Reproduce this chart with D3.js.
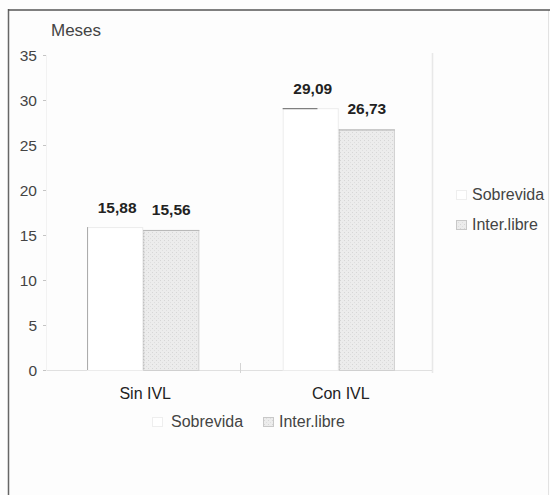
<!DOCTYPE html>
<html><head><meta charset="utf-8">
<script src="https://cdn.jsdelivr.net/npm/d3@7"></script>
<style>
html,body{margin:0;padding:0;background:#fff;}
svg{display:block;font-family:"Liberation Sans",Arial,sans-serif;}
</style></head>
<body>
<svg id="c" width="550" height="495"></svg>
<script>
const categories = ["Sin IVL", "Con IVL"];
const seriesNames = ["Sobrevida", "Inter.libre"];
const sobrevida = [15.88, 29.09];
const interLibre = [15.56, 26.73];
const yTicks = [0, 5, 10, 15, 20, 25, 30, 35];
const valueLabels = [["15,88", "29,09"], ["15,56", "26,73"]];
const yTitle = "Meses";

(function(){
const svg = d3.select("#c");
const defs = svg.append("defs");
const pat = defs.append("pattern").attr("id","stip").attr("width",4).attr("height",4).attr("patternUnits","userSpaceOnUse");
pat.append("rect").attr("width",4).attr("height",4).attr("fill","#ececec");
pat.append("rect").attr("x",0).attr("y",0).attr("width",1).attr("height",1).attr("fill","#d6d6d6");
pat.append("rect").attr("x",2).attr("y",2).attr("width",1).attr("height",1).attr("fill","#dedede");

// background + frame
svg.append("rect").attr("x",0).attr("y",0).attr("width",550).attr("height",495).attr("fill","#fdfdfd");
svg.append("line").attr("x1",548.5).attr("x2",548.5).attr("y1",10).attr("y2",495).attr("stroke","#e2e2e2");
svg.append("line").attr("x1",8.5).attr("x2",8.5).attr("y1",9).attr("y2",495).attr("stroke","#666").attr("stroke-width",1.5);
svg.append("line").attr("x1",8).attr("x2",550).attr("y1",10).attr("y2",10).attr("stroke","#555").attr("stroke-width",1.5);

const pLeft = 45, pRight = 432, pTop = 55, pBottom = 370;
const y = d3.scaleLinear().domain([0, 35]).range([pBottom, pTop]);
const x0 = d3.scaleBand().domain(categories).range([46, 436]).paddingInner(0.426).paddingOuter(0.21);
const x1 = d3.scaleBand().domain(seriesNames).range([0, x0.bandwidth()]);

// plot frame lines (faint)
svg.append("line").attr("x1",pRight+0.5).attr("x2",pRight+0.5).attr("y1",53).attr("y2",pBottom+3).attr("stroke","#e8e8e8").attr("stroke-width",1.5);
svg.append("line").attr("x1",pLeft-2).attr("x2",pRight).attr("y1",pBottom+0.5).attr("y2",pBottom+0.5).attr("stroke","#e0e0e0");
svg.append("line").attr("x1",240.5).attr("x2",240.5).attr("y1",pBottom-7).attr("y2",pBottom+3).attr("stroke","#d4d4d4");

// y axis
const yAxis = svg.append("g").attr("transform",`translate(${pLeft+1},0)`)
  .call(d3.axisLeft(y).tickValues(yTicks).tickSize(3).tickPadding(6).tickFormat(d3.format("d")));
yAxis.select(".domain").attr("stroke","#f2f2f2");
yAxis.selectAll(".tick line").attr("stroke","#c4c4c4");
yAxis.selectAll(".tick text").attr("fill","#444").attr("font-size","15.5px").attr("dy","0.36em");

svg.append("text").attr("x",51).attr("y",36).attr("font-size","17px").attr("fill","#444").text(yTitle);

// bars
const series = [sobrevida, interLibre];
const fills = ["#ffffff", "url(#stip)"];
const strokes = ["#ececec", "#d0d0d0"];
series.forEach((vals, si) => {
  const g = svg.append("g");
  categories.forEach((c, ci) => {
    const bx = x0(c) + x1(seriesNames[si]);
    const bw = x1.bandwidth();
    const yt = y(vals[ci]);
    g.append("rect").attr("x",bx+0.5).attr("y",yt+0.5).attr("width",bw-1).attr("height",pBottom - yt)
      .attr("fill",fills[si]).attr("stroke",strokes[si]);
    if (si===0 && ci===1) {
      g.append("line").attr("x1",bx).attr("x2",bx+bw*0.62).attr("y1",yt+0.5).attr("y2",yt+0.5).attr("stroke","#666");
    }
    if (si===1) {
      g.append("line").attr("x1",bx).attr("x2",bx+bw).attr("y1",yt+0.5).attr("y2",yt+0.5).attr("stroke","#b8b8b8");
      g.append("line").attr("x1",bx+0.5).attr("x2",bx+0.5).attr("y1",yt).attr("y2",pBottom)
        .attr("stroke","#bbb").attr("stroke-dasharray","1,2");
    }
    if (si===0 && ci===0) {
      g.append("line").attr("x1",bx+0.5).attr("x2",bx+0.5).attr("y1",yt).attr("y2",pBottom)
        .attr("stroke","#a8a8a8");
    }
    svg.append("text").attr("x",bx + bw/2 + (si===0?2:0)).attr("y",yt - (si===0?14:15))
      .attr("text-anchor","middle").attr("font-size","15.5px").attr("font-weight","bold").attr("fill","#222")
      .text(valueLabels[si][ci]);
  });
});

// category labels
categories.forEach((c, i) => {
  svg.append("text").attr("x", x0(c) + x0.bandwidth()/2 + 2).attr("y", 399)
    .attr("text-anchor","middle").attr("font-size","16px").attr("fill","#222").text(c);
});

// right legend
const legR = [{y:200},{y:230}];
seriesNames.forEach((n,i)=>{
  svg.append("rect").attr("x",456.5).attr("y",legR[i].y-9.5).attr("width",10).attr("height",9)
    .attr("fill",fills[i]).attr("stroke", i===0?"#eeeeee":"#c8c8c8");
  svg.append("text").attr("x",472).attr("y",legR[i].y).attr("font-size","16px").attr("fill","#444").text(n);
});

// bottom legend
const legB = [{x:152, tx:171},{x:263, tx:279}];
seriesNames.forEach((n,i)=>{
  svg.append("rect").attr("x",legB[i].x+0.5).attr("y",417.5).attr("width",10).attr("height",9)
    .attr("fill",fills[i]).attr("stroke", i===0?"#eeeeee":"#c8c8c8");
  svg.append("text").attr("x",legB[i].tx).attr("y",427).attr("font-size","16px").attr("fill","#444").text(n);
});
})();
</script>
</body></html>
